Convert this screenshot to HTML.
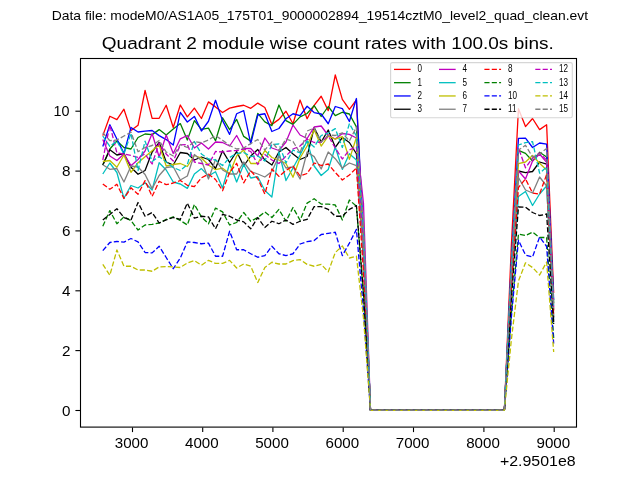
<!DOCTYPE html>
<html><head><meta charset="utf-8">
<style>
html,body{margin:0;padding:0;background:#fff;}
body{width:640px;height:480px;overflow:hidden;position:relative;font-family:"Liberation Sans",sans-serif;}
svg{position:absolute;left:0;top:0;will-change:transform;}
text{font-family:"Liberation Sans",sans-serif;fill:#000;}
</style></head><body>
<svg width="640" height="480" viewBox="0 0 640 480">
<rect x="0" y="0" width="640" height="480" fill="#fff"/>
<text transform="translate(319.90,20.00) scale(1.1390,1)" font-size="12.2" text-anchor="middle">Data file: modeM0/AS1A05_175T01_9000002894_19514cztM0_level2_quad_clean.evt</text>
<text transform="translate(327.80,48.90) scale(1.1190,1)" font-size="17" text-anchor="middle">Quadrant 2 module wise count rates with 100.0s bins.</text>
<clipPath id="c"><rect x="80" y="58" width="496.5" height="369.5"/></clipPath>
<g clip-path="url(#c)">
<polyline points="102.80,135.60 109.84,116.25 116.89,119.70 123.94,109.20 130.98,130.60 138.03,125.30 145.07,90.50 152.12,118.30 159.16,118.30 166.20,105.30 173.25,127.50 180.30,105.00 187.34,116.90 194.38,108.10 201.43,118.50 208.47,101.90 215.52,106.90 222.56,112.50 229.61,108.10 236.65,106.50 243.70,105.25 250.75,108.30 257.79,103.10 264.83,107.50 271.88,124.40 278.93,119.40 285.97,111.25 293.01,123.75 300.06,100.00 307.11,118.75 314.15,105.30 321.19,96.25 328.24,110.60 335.28,75.00 342.33,99.40 349.38,109.40 356.42,100.00 363.47,239.72 370.51,410.30 504.37,410.30 511.41,244.54 518.45,108.75 525.50,126.60 532.54,118.50 539.59,129.60 546.63,124.75 553.68,293.00" fill="none" stroke="#ff0000" stroke-width="1.3" stroke-linejoin="round"/>
<polyline points="102.80,165.00 109.84,149.00 116.89,141.00 123.94,147.50 130.98,149.00 138.03,137.50 145.07,134.00 152.12,134.60 159.16,129.60 166.20,135.00 173.25,128.90 180.30,123.60 187.34,140.00 194.38,120.60 201.43,129.40 208.47,128.10 215.52,140.80 222.56,117.75 229.61,129.60 236.65,119.40 243.70,136.40 250.75,141.10 257.79,113.30 264.83,121.90 271.88,125.60 278.93,105.00 285.97,120.60 293.01,124.40 300.06,116.90 307.11,113.50 314.15,105.60 321.19,116.50 328.24,106.50 335.28,115.60 342.33,112.25 349.38,114.00 356.42,126.90 363.47,240.34 370.51,410.30 504.37,410.30 511.41,267.39 518.45,150.30 525.50,153.40 532.54,161.00 539.59,152.30 546.63,157.00 553.68,303.00" fill="none" stroke="#008000" stroke-width="1.3" stroke-linejoin="round"/>
<polyline points="102.80,146.50 109.84,124.70 116.89,139.00 123.94,153.40 130.98,127.50 138.03,132.00 145.07,131.20 152.12,130.50 159.16,135.60 166.20,139.60 173.25,145.10 180.30,112.30 187.34,122.00 194.38,116.40 201.43,131.00 208.47,121.25 215.52,100.25 222.56,120.60 229.61,134.40 236.65,113.75 243.70,110.60 250.75,143.90 257.79,115.00 264.83,113.75 271.88,131.50 278.93,128.50 285.97,118.75 293.01,113.75 300.06,115.60 307.11,106.25 314.15,112.60 321.19,114.00 328.24,123.75 335.28,106.50 342.33,108.60 349.38,121.50 356.42,98.50 363.47,235.78 370.51,410.30 504.37,410.30 511.41,260.84 518.45,138.40 525.50,138.10 532.54,147.50 539.59,143.00 546.63,144.20 553.68,300.00" fill="none" stroke="#0000ff" stroke-width="1.3" stroke-linejoin="round"/>
<polyline points="102.80,165.00 109.84,149.70 116.89,155.00 123.94,153.50 130.98,167.30 138.03,174.30 145.07,170.50 152.12,152.00 159.16,142.50 166.20,162.00 173.25,165.00 180.30,152.50 187.34,153.50 194.38,160.00 201.43,157.00 208.47,159.50 215.52,168.50 222.56,150.80 229.61,162.50 236.65,151.50 243.70,166.00 250.75,156.00 257.79,149.50 264.83,160.00 271.88,165.00 278.93,152.00 285.97,147.50 293.01,154.00 300.06,159.50 307.11,156.50 314.15,127.50 321.19,142.00 328.24,130.00 335.28,147.30 342.33,137.50 349.38,142.50 356.42,153.75 363.47,256.45 370.51,410.30 504.37,410.30 511.41,278.77 518.45,171.00 525.50,172.70 532.54,171.50 539.59,162.00 546.63,164.20 553.68,322.00" fill="none" stroke="#000000" stroke-width="1.3" stroke-linejoin="round"/>
<polyline points="102.80,139.50 109.84,156.00 116.89,160.50 123.94,154.00 130.98,165.70 138.03,159.50 145.07,151.00 152.12,133.50 159.16,157.00 166.20,135.00 173.25,153.50 180.30,138.80 187.34,135.50 194.38,148.00 201.43,143.00 208.47,149.00 215.52,142.00 222.56,142.50 229.61,146.00 236.65,135.50 243.70,148.50 250.75,148.50 257.79,156.00 264.83,138.00 271.88,148.00 278.93,150.50 285.97,142.00 293.01,125.00 300.06,135.00 307.11,138.50 314.15,127.00 321.19,126.00 328.24,135.50 335.28,139.00 342.33,133.50 349.38,134.40 356.42,138.00 363.47,203.40 370.51,410.30 504.37,410.30 511.41,278.77 518.45,171.00 525.50,179.00 532.54,161.00 539.59,154.00 546.63,162.30 553.68,310.00" fill="none" stroke="#bf00bf" stroke-width="1.3" stroke-linejoin="round"/>
<polyline points="102.80,174.00 109.84,163.00 116.89,172.50 123.94,198.30 130.98,185.50 138.03,188.00 145.07,182.70 152.12,190.00 159.16,162.70 166.20,170.00 173.25,182.00 180.30,184.00 187.34,188.40 194.38,174.00 201.43,168.60 208.47,176.00 215.52,171.80 222.56,188.00 229.61,163.50 236.65,182.00 243.70,164.50 250.75,178.00 257.79,176.70 264.83,190.50 271.88,197.00 278.93,152.00 285.97,180.50 293.01,168.00 300.06,155.00 307.11,141.00 314.15,166.00 321.19,175.50 328.24,169.50 335.28,147.00 342.33,169.40 349.38,153.75 356.42,160.00 363.47,250.18 370.51,410.30 504.37,410.30 511.41,292.80 518.45,196.50 525.50,191.50 532.54,205.50 539.59,194.00 546.63,186.00 553.68,318.00" fill="none" stroke="#00bfbf" stroke-width="1.3" stroke-linejoin="round"/>
<polyline points="102.80,161.50 109.84,160.50 116.89,167.30 123.94,155.00 130.98,172.30 138.03,162.70 145.07,156.70 152.12,150.70 159.16,145.00 166.20,166.00 173.25,164.50 180.30,163.50 187.34,166.50 194.38,155.50 201.43,158.00 208.47,165.00 215.52,169.70 222.56,168.20 229.61,173.50 236.65,156.00 243.70,150.00 250.75,163.50 257.79,163.50 264.83,150.50 271.88,157.50 278.93,160.00 285.97,163.50 293.01,177.20 300.06,158.00 307.11,146.00 314.15,129.70 321.19,146.10 328.24,136.10 335.28,139.20 342.33,136.70 349.38,159.40 356.42,137.50 363.47,246.70 370.51,410.30 504.37,410.30 511.41,274.70 518.45,163.60 525.50,162.00 532.54,155.50 539.59,163.30 546.63,170.00 553.68,311.00" fill="none" stroke="#bfbf00" stroke-width="1.3" stroke-linejoin="round"/>
<polyline points="102.80,164.70 109.84,169.30 116.89,168.50 123.94,182.00 130.98,166.00 138.03,167.00 145.07,174.50 152.12,188.60 159.16,175.50 166.20,167.50 173.25,166.70 180.30,180.00 187.34,176.00 194.38,154.50 201.43,160.50 208.47,179.00 215.52,159.50 222.56,170.00 229.61,174.00 236.65,174.00 243.70,162.00 250.75,171.50 257.79,174.00 264.83,177.00 271.88,171.60 278.93,156.00 285.97,168.00 293.01,167.00 300.06,179.00 307.11,152.00 314.15,156.60 321.19,169.00 328.24,152.00 335.28,158.70 342.33,168.00 349.38,163.00 356.42,165.60 363.47,253.76 370.51,410.30 504.37,410.30 511.41,282.35 518.45,177.50 525.50,190.00 532.54,193.00 539.59,177.00 546.63,186.00 553.68,316.00" fill="none" stroke="#808080" stroke-width="1.3" stroke-linejoin="round"/>
<polyline points="102.80,184.00 109.84,189.30 116.89,184.30 123.94,198.50 130.98,187.80 138.03,194.20 145.07,180.60 152.12,196.40 159.16,181.30 166.20,184.70 173.25,183.00 180.30,180.50 187.34,185.30 194.38,186.60 201.43,177.80 208.47,174.20 215.52,179.50 222.56,190.70 229.61,172.50 236.65,163.30 243.70,182.80 250.75,170.80 257.79,178.70 264.83,194.00 271.88,169.00 278.93,176.40 285.97,170.50 293.01,166.00 300.06,176.00 307.11,173.50 314.15,163.00 321.19,165.50 328.24,164.00 335.28,172.50 342.33,180.00 349.38,175.00 356.42,168.00 363.47,272.27 370.51,410.30 504.37,410.30 511.41,287.85 518.45,187.50 525.50,179.00 532.54,193.00 539.59,194.00 546.63,174.50 553.68,317.00" fill="none" stroke="#ff0000" stroke-width="1.3" stroke-linejoin="round" stroke-dasharray="5.14 2.22"/>
<polyline points="102.80,226.25 109.84,210.60 116.89,223.75 123.94,216.90 130.98,220.60 138.03,230.00 145.07,225.00 152.12,224.40 159.16,223.00 166.20,219.40 173.25,216.90 180.30,220.50 187.34,225.00 194.38,204.40 201.43,216.90 208.47,223.75 215.52,208.10 222.56,211.90 229.61,225.00 236.65,222.50 243.70,212.50 250.75,221.25 257.79,217.50 264.83,211.90 271.88,217.50 278.93,209.40 285.97,221.25 293.01,207.50 300.06,220.30 307.11,203.10 314.15,198.75 321.19,204.00 328.24,204.20 335.28,205.00 342.33,220.00 349.38,200.00 356.42,206.25 363.47,294.08 370.51,410.30 504.37,410.30 511.41,313.43 518.45,234.00 525.50,235.50 532.54,232.10 539.59,237.50 546.63,237.50 553.68,338.00" fill="none" stroke="#008000" stroke-width="1.3" stroke-linejoin="round" stroke-dasharray="5.14 2.22"/>
<polyline points="102.80,250.60 109.84,242.50 116.89,241.50 123.94,242.10 130.98,238.50 138.03,241.90 145.07,252.50 152.12,252.90 159.16,246.25 166.20,257.50 173.25,268.75 180.30,258.00 187.34,241.90 194.38,242.50 201.43,243.75 208.47,243.10 215.52,256.25 222.56,256.25 229.61,231.25 236.65,249.75 243.70,249.75 250.75,253.75 257.79,257.25 264.83,255.60 271.88,246.25 278.93,253.75 285.97,255.60 293.01,253.75 300.06,244.00 307.11,241.70 314.15,240.60 321.19,234.50 328.24,233.30 335.28,232.25 342.33,255.60 349.38,243.10 356.42,229.40 363.47,310.89 370.51,410.30 504.37,410.30 511.41,316.83 518.45,240.20 525.50,255.00 532.54,257.00 539.59,237.00 546.63,246.50 553.68,343.50" fill="none" stroke="#0000ff" stroke-width="1.3" stroke-linejoin="round" stroke-dasharray="5.14 2.22"/>
<polyline points="102.80,220.00 109.84,214.40 116.89,208.75 123.94,217.50 130.98,220.00 138.03,202.50 145.07,216.25 152.12,212.50 159.16,223.00 166.20,220.00 173.25,217.50 180.30,219.40 187.34,203.10 194.38,218.10 201.43,216.25 208.47,216.90 215.52,228.75 222.56,214.40 229.61,216.25 236.65,220.00 243.70,221.90 250.75,228.75 257.79,217.50 264.83,227.50 271.88,221.25 278.93,223.75 285.97,220.00 293.01,224.40 300.06,221.25 307.11,219.40 314.15,206.60 321.19,206.60 328.24,209.40 335.28,216.25 342.33,216.25 349.38,209.40 356.42,205.60 363.47,293.71 370.51,410.30 504.37,410.30 511.41,298.57 518.45,207.00 525.50,207.20 532.54,212.50 539.59,215.50 546.63,214.00 553.68,324.00" fill="none" stroke="#000000" stroke-width="1.3" stroke-linejoin="round" stroke-dasharray="5.14 2.22"/>
<polyline points="102.80,160.00 109.84,125.00 116.89,153.00 123.94,154.00 130.98,155.50 138.03,157.50 145.07,154.00 152.12,164.00 159.16,143.00 166.20,154.00 173.25,161.00 180.30,145.00 187.34,144.50 194.38,162.00 201.43,163.50 208.47,165.00 215.52,151.50 222.56,152.00 229.61,151.00 236.65,150.50 243.70,149.00 250.75,151.50 257.79,164.50 264.83,154.50 271.88,160.00 278.93,163.50 285.97,156.00 293.01,149.00 300.06,146.00 307.11,139.00 314.15,142.50 321.19,142.00 328.24,136.00 335.28,148.00 342.33,159.00 349.38,150.00 356.42,147.00 363.47,241.86 370.51,410.30 504.37,410.30 511.41,266.12 518.45,148.00 525.50,167.80 532.54,158.00 539.59,153.00 546.63,160.00 553.68,309.00" fill="none" stroke="#bf00bf" stroke-width="1.3" stroke-linejoin="round" stroke-dasharray="5.14 2.22"/>
<polyline points="102.80,136.00 109.84,146.30 116.89,141.00 123.94,154.00 130.98,133.30 138.03,170.50 145.07,141.10 152.12,161.50 159.16,156.60 166.20,162.00 173.25,167.50 180.30,170.50 187.34,164.50 194.38,141.50 201.43,154.00 208.47,159.00 215.52,160.00 222.56,165.50 229.61,157.50 236.65,153.50 243.70,152.50 250.75,156.50 257.79,156.00 264.83,161.00 271.88,144.50 278.93,144.00 285.97,163.00 293.01,150.00 300.06,153.00 307.11,141.00 314.15,147.00 321.19,135.50 328.24,133.00 335.28,128.60 342.33,147.50 349.38,123.75 356.42,136.00 363.47,229.33 370.51,410.30 504.37,410.30 511.41,264.48 518.45,145.00 525.50,142.70 532.54,141.70 539.59,173.20 546.63,167.00 553.68,308.00" fill="none" stroke="#00bfbf" stroke-width="1.3" stroke-linejoin="round" stroke-dasharray="5.14 2.22"/>
<polyline points="102.80,264.40 109.84,275.25 116.89,250.00 123.94,266.25 130.98,266.25 138.03,270.00 145.07,270.00 152.12,271.25 159.16,266.90 166.20,266.50 173.25,266.90 180.30,267.50 187.34,263.00 194.38,260.60 201.43,265.25 208.47,260.40 215.52,263.40 222.56,263.40 229.61,260.40 236.65,268.00 243.70,264.00 250.75,266.25 257.79,282.50 264.83,267.50 271.88,262.25 278.93,264.00 285.97,264.00 293.01,260.60 300.06,259.60 307.11,264.40 314.15,266.25 321.19,264.40 328.24,271.90 335.28,252.50 342.33,246.00 349.38,258.00 356.42,256.25 363.47,317.95 370.51,410.30 504.37,410.30 511.41,339.27 518.45,281.00 525.50,262.80 532.54,267.50 539.59,275.00 546.63,262.00 553.68,352.00" fill="none" stroke="#bfbf00" stroke-width="1.3" stroke-linejoin="round" stroke-dasharray="5.14 2.22"/>
<polyline points="102.80,132.80 109.84,140.70 116.89,140.00 123.94,136.00 130.98,132.20 138.03,151.70 145.07,147.50 152.12,145.50 159.16,140.50 166.20,152.00 173.25,156.00 180.30,144.50 187.34,147.50 194.38,141.50 201.43,142.80 208.47,140.00 215.52,135.50 222.56,140.30 229.61,145.50 236.65,149.00 243.70,148.00 250.75,143.50 257.79,139.50 264.83,150.00 271.88,142.00 278.93,150.50 285.97,139.00 293.01,141.50 300.06,153.00 307.11,131.00 314.15,128.00 321.19,142.00 328.24,135.00 335.28,135.50 342.33,132.80 349.38,141.00 356.42,127.00 363.47,223.39 370.51,410.30 504.37,410.30 511.41,267.23 518.45,150.00 525.50,145.30 532.54,157.00 539.59,154.00 546.63,148.40 553.68,306.00" fill="none" stroke="#808080" stroke-width="1.3" stroke-linejoin="round" stroke-dasharray="5.14 2.22"/>
</g>
<rect x="390.6" y="62.6" width="181.7" height="55.1" rx="1.7" ry="1.7" fill="#fff" fill-opacity="0.8" stroke="#ccc" stroke-opacity="0.8" stroke-width="1.1"/>
<line x1="394.00" y1="69.40" x2="410.67" y2="69.40" stroke="#ff0000" stroke-width="1.3"/>
<text transform="translate(417.60,72.40) scale(0.78,1)" font-size="10.4">0</text>
<line x1="394.00" y1="82.68" x2="410.67" y2="82.68" stroke="#008000" stroke-width="1.3"/>
<text transform="translate(417.60,85.68) scale(0.78,1)" font-size="10.4">1</text>
<line x1="394.00" y1="95.96" x2="410.67" y2="95.96" stroke="#0000ff" stroke-width="1.3"/>
<text transform="translate(417.60,98.96) scale(0.78,1)" font-size="10.4">2</text>
<line x1="394.00" y1="109.24" x2="410.67" y2="109.24" stroke="#000000" stroke-width="1.3"/>
<text transform="translate(417.60,112.24) scale(0.78,1)" font-size="10.4">3</text>
<line x1="439.00" y1="69.40" x2="455.67" y2="69.40" stroke="#bf00bf" stroke-width="1.3"/>
<text transform="translate(462.60,72.40) scale(0.78,1)" font-size="10.4">4</text>
<line x1="439.00" y1="82.68" x2="455.67" y2="82.68" stroke="#00bfbf" stroke-width="1.3"/>
<text transform="translate(462.60,85.68) scale(0.78,1)" font-size="10.4">5</text>
<line x1="439.00" y1="95.96" x2="455.67" y2="95.96" stroke="#bfbf00" stroke-width="1.3"/>
<text transform="translate(462.60,98.96) scale(0.78,1)" font-size="10.4">6</text>
<line x1="439.00" y1="109.24" x2="455.67" y2="109.24" stroke="#808080" stroke-width="1.3"/>
<text transform="translate(462.60,112.24) scale(0.78,1)" font-size="10.4">7</text>
<line x1="484.40" y1="69.40" x2="501.07" y2="69.40" stroke="#ff0000" stroke-width="1.3" stroke-dasharray="5.14 2.22"/>
<text transform="translate(508.00,72.40) scale(0.78,1)" font-size="10.4">8</text>
<line x1="484.40" y1="82.68" x2="501.07" y2="82.68" stroke="#008000" stroke-width="1.3" stroke-dasharray="5.14 2.22"/>
<text transform="translate(508.00,85.68) scale(0.78,1)" font-size="10.4">9</text>
<line x1="484.40" y1="95.96" x2="501.07" y2="95.96" stroke="#0000ff" stroke-width="1.3" stroke-dasharray="5.14 2.22"/>
<text transform="translate(508.00,98.96) scale(0.78,1)" font-size="10.4">10</text>
<line x1="484.40" y1="109.24" x2="501.07" y2="109.24" stroke="#000000" stroke-width="1.3" stroke-dasharray="5.14 2.22"/>
<text transform="translate(508.00,112.24) scale(0.78,1)" font-size="10.4">11</text>
<line x1="535.30" y1="69.40" x2="551.97" y2="69.40" stroke="#bf00bf" stroke-width="1.3" stroke-dasharray="5.14 2.22"/>
<text transform="translate(558.90,72.40) scale(0.78,1)" font-size="10.4">12</text>
<line x1="535.30" y1="82.68" x2="551.97" y2="82.68" stroke="#00bfbf" stroke-width="1.3" stroke-dasharray="5.14 2.22"/>
<text transform="translate(558.90,85.68) scale(0.78,1)" font-size="10.4">13</text>
<line x1="535.30" y1="95.96" x2="551.97" y2="95.96" stroke="#bfbf00" stroke-width="1.3" stroke-dasharray="5.14 2.22"/>
<text transform="translate(558.90,98.96) scale(0.78,1)" font-size="10.4">14</text>
<line x1="535.30" y1="109.24" x2="551.97" y2="109.24" stroke="#808080" stroke-width="1.3" stroke-dasharray="5.14 2.22"/>
<text transform="translate(558.90,112.24) scale(0.78,1)" font-size="10.4">15</text>
<rect x="80.5" y="58.5" width="496" height="368.6" fill="none" stroke="#000" stroke-width="1.1"/>
<g stroke="#000" stroke-width="1.1">
<line x1="132.5" y1="427.5" x2="132.5" y2="432.1"/>
<line x1="202.7" y1="427.5" x2="202.7" y2="432.1"/>
<line x1="272.9" y1="427.5" x2="272.9" y2="432.1"/>
<line x1="343.2" y1="427.5" x2="343.2" y2="432.1"/>
<line x1="413.5" y1="427.5" x2="413.5" y2="432.1"/>
<line x1="483.9" y1="427.5" x2="483.9" y2="432.1"/>
<line x1="554.2" y1="427.5" x2="554.2" y2="432.1"/>
<line x1="75.4" y1="410.5" x2="80" y2="410.5"/>
<line x1="75.4" y1="350.6" x2="80" y2="350.6"/>
<line x1="75.4" y1="290.8" x2="80" y2="290.8"/>
<line x1="75.4" y1="230.9" x2="80" y2="230.9"/>
<line x1="75.4" y1="171.1" x2="80" y2="171.1"/>
<line x1="75.4" y1="111.2" x2="80" y2="111.2"/>
</g>
<text transform="translate(131.60,447.80) scale(1.0750,1)" font-size="14.1" text-anchor="middle">3000</text>
<text transform="translate(201.80,447.80) scale(1.0750,1)" font-size="14.1" text-anchor="middle">4000</text>
<text transform="translate(272.00,447.80) scale(1.0750,1)" font-size="14.1" text-anchor="middle">5000</text>
<text transform="translate(342.30,447.80) scale(1.0750,1)" font-size="14.1" text-anchor="middle">6000</text>
<text transform="translate(412.60,447.80) scale(1.0750,1)" font-size="14.1" text-anchor="middle">7000</text>
<text transform="translate(483.00,447.80) scale(1.0750,1)" font-size="14.1" text-anchor="middle">8000</text>
<text transform="translate(553.30,447.80) scale(1.0750,1)" font-size="14.1" text-anchor="middle">9000</text>
<text transform="translate(575.60,466.30) scale(1.1300,1)" font-size="14.1" text-anchor="end">+2.9501e8</text>
<text transform="translate(70.40,415.70) scale(1.0800,1)" font-size="14.1" text-anchor="end">0</text>
<text transform="translate(70.40,355.85) scale(1.0800,1)" font-size="14.1" text-anchor="end">2</text>
<text transform="translate(70.40,296.00) scale(1.0800,1)" font-size="14.1" text-anchor="end">4</text>
<text transform="translate(70.40,236.15) scale(1.0800,1)" font-size="14.1" text-anchor="end">6</text>
<text transform="translate(70.40,176.30) scale(1.0800,1)" font-size="14.1" text-anchor="end">8</text>
<text transform="translate(69.60,116.45) scale(1.0200,1)" font-size="14.1" text-anchor="end">10</text>
</svg>
</body></html>
